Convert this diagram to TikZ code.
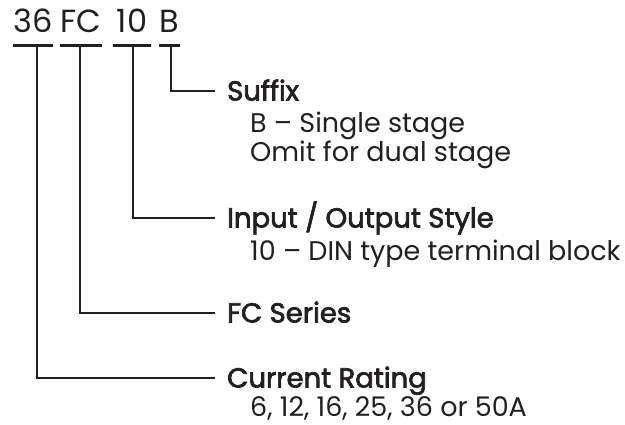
\documentclass[tikz,border=0pt]{standalone}
\usepackage{fontspec}
\setmainfont{Poppins}
\newfontfamily\headfont[FakeBold=2.5]{Poppins}
\usepackage{xcolor}
\usetikzlibrary{calc}
\definecolor{ink}{HTML}{231F20}

\tikzset{
  code/.style={inner sep=0pt, anchor=base, text=ink, font=\fontsize{32}{38}\selectfont},
  label/.style={inner sep=0pt, anchor=west, text=ink, text height=19pt, text depth=0pt,
    font=\fontsize{27.5}{32}\headfont},
  detail/.style={inner sep=0pt, anchor=base west, align=left, text=ink,
    font=\fontsize{27}{29}\selectfont},
  lead/.style={draw=ink, line width=2.8pt},
}

\begin{document}
\begin{tikzpicture}[x=1pt,y=-1pt]
    \useasboundingbox (0,0) rectangle (625,425);
    % part code
    \node[code, minimum width=38pt] (t36) at (33,33) {36};
    \node[code, minimum width=38pt] (tFC) at (81,33) {FC};
    \node[code, minimum width=38pt] (t10) at (132,33) {10};
    \node[code, minimum width=16pt] (tB) at (169.5,33) {B};
    \foreach \t in {t36,tFC,t10,tB}
      \draw[lead] ($(\t.south west)+(0,12)$) -- ($(\t.south east)+(0,12)$);
    \coordinate (b36) at ($(t36.south)+(4,12)$);
    \coordinate (bFC) at ($(tFC.south)+(-1,12)$);
    \coordinate (b10) at ($(t10.south)+(1,12)$);
    \coordinate (bB) at ($(tB.south)+(1.5,12)$);
    % headings
    \node[label] (suffix) at (227,91) {Suffix};
    \node[label] (style) at (227,218) {Input / Output Style};
    \node[label] (series) at (227,313) {FC Series};
    \node[label] (rating) at (227,378) {Current Rating};
    % details (base = last line)
    \node[detail] (suffixtxt) at (250,162) {B – Single stage\\Omit for dual stage};
    \node[detail] (styletxt) at (250,261) {10 – DIN type terminal block};
    \node[detail] (ratingtxt) at (250,417) {6, 12, 16, 25, 36 or 50A};
    % leaders
    \draw[lead] (bB) |- ([xshift=-12pt]suffix.west);
    \draw[lead] (b10) |- ([xshift=-12pt]style.west);
    \draw[lead] (bFC) |- ([xshift=-12pt]series.west);
    \draw[lead] (b36) |- ([xshift=-12pt]rating.west);
\end{tikzpicture}
\end{document}
